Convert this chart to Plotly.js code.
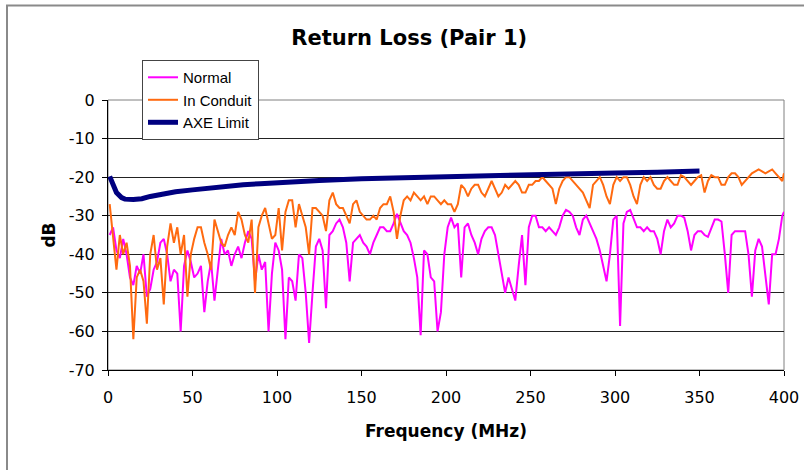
<!DOCTYPE html>
<html>
<head>
<meta charset="utf-8">
<script src="https://cdn.plot.ly/plotly-3.0.1.min.js"></script>
<style>
  html, body { margin: 0; padding: 0; background: #ffffff; }
  #chart { width: 804px; height: 470px; }
</style>
</head>
<body>
<div id="chart"></div>
<script>
// Frequency samples (MHz) for measured traces
const freq = [
  1,3,5,7,9,11,13,15,17,19,
  21,23,25,27,29,31,33,35,37,39,
  41,43,45,47,49,51,53,55,57,59,
  61,63,65,67,69,71,73,75,77,79,
  81,83,85,87,89,91,93,95,97,99,
  101,103,105,107,109,111,113,115,117,119,
  121,123,125,127,129,131,133,135,137,139,
  141,143,145,147,149,151,153,155,157,159,
  161,163,165,167,169,171,173,175,177,179,
  181,183,185,187,189,191,193,195,197,199,
  201,203,205,207,209,211,213,215,217,219,
  221,223,225,227,229,231,233,235,237,239,
  241,243,245,247,249,251,253,255,257,259,
  261,263,265,267,269,271,273,275,277,279,
  281,283,285,287,289,291,293,295,297,299,
  301,303,305,307,309,311,313,315,317,319,
  321,323,325,327,329,331,333,335,337,339,
  341,343,345,347,349,351,353,355,357,359,
  361,363,365,367,369,371,373,375,377,379,
  381,383,385,387,389,391,393,395,397,399,
  400
];

// "Normal" return loss (dB)
const normal = [
  -35,-33,-39,-41,-36,-40,-46,-48,-43,-45,
  -40,-51,-49,-44,-42,-37,-36,-40,-47,-44,
  -45,-60,-43,-39,-42,-46,-45,-43,-55,-47,
  -42,-52,-44,-36,-40,-39,-43,-40,-38,-41,
  -37,-34,-36,-47,-40,-44,-42,-60,-45,-37,
  -39,-44,-62,-46,-47,-52,-40,-41,-50,-63,
  -50,-38,-36,-39,-54,-35,-34,-32,-31,-33,
  -37,-47,-37,-36,-35,-37,-38,-40,-37,-35,
  -33,-33,-34,-34,-32,-29.5,-32,-34,-35,-37,
  -41,-46,-61,-39,-40,-46,-47,-60,-55,-40,
  -33,-30.5,-33,-32,-46,-33,-32,-35,-37,-40,
  -36,-34,-33,-33,-35,-40,-44,-50,-46,-49,
  -52,-43,-35,-48,-33,-30,-30,-33,-33,-34,
  -33,-34,-35,-33,-30,-28.5,-29,-30,-33,-35,
  -31,-30,-32,-34,-36,-39,-43,-47,-40,-31,
  -30,-58.6,-32,-29,-28.5,-31,-33,-33,-34,-33,
  -34,-34,-36,-40,-34,-31,-33,-32,-30,-30,
  -30.5,-34,-39,-35,-34,-34,-35,-35.5,-33,-31,
  -31,-31.5,-40,-50,-35,-34,-34,-34,-34,-40,
  -51,-39,-36,-38,-45,-53,-40,-40,-36,-30,
  -29
];

// "In Conduit" return loss (dB)
const inConduit = [
  -27,-36,-44,-35,-40,-37,-43,-62,-46,-44,
  -47,-58,-40,-35,-44,-41,-53,-38,-32,-37,
  -33,-40,-35,-51,-40,-36,-33,-33,-37,-40,
  -44,-31,-34,-37,-38,-35,-33,-35,-29,-31,
  -35,-37,-31,-50,-33,-30,-28,-32,-36,-35,
  -28,-39,-29,-26,-26,-33,-27,-30,-33,-40,
  -28,-28,-29,-30,-34,-26,-24,-27,-28,-28,
  -30,-32,-27,-26,-29,-30,-31,-31,-30,-31,
  -28,-27,-27,-25,-29,-36,-30,-26,-25,-26,
  -24,-25,-26,-25,-27,-25,-25,-26,-27,-26,
  -27,-27,-29,-27,-22,-23,-25,-23,-22,-22,
  -24,-25,-23,-21,-23,-25,-24,-22,-23,-22,
  -21,-22,-24,-24,-22,-22,-21,-21,-20,-21,
  -22,-23,-27,-23,-21,-20,-20,-21,-22,-23,
  -24,-26,-28,-22,-21,-20,-22,-25,-27,-22,
  -20,-21,-20,-20,-22,-25,-27,-22,-20,-21,
  -20,-22,-23,-23,-21,-20,-21,-22,-22,-19.5,
  -20,-21,-22,-21,-20,-19.5,-24,-21,-19.5,-20,
  -20,-22,-22,-20,-19,-19,-20,-22,-21,-20,
  -19,-18.5,-18,-18.5,-19,-18.5,-18,-19,-20,-21,
  -19
];

// AXE limit line
const limitFreq = [1,3,5,8,10,15,20,25,30,40,50,60,70,80,90,100,125,150,175,200,225,250,275,300,325,350];
const axeLimit  = [-19.8,-22,-24,-25.3,-25.7,-25.8,-25.6,-25.0,-24.5,-23.8,-23.3,-22.8,-22.4,-22.0,-21.7,-21.4,-20.9,-20.4,-20.1,-19.8,-19.5,-19.2,-19.0,-18.9,-18.7,-18.4];

const seriesNames = ["Normal", "In Conduit", "AXE Limit"];
const xTickVals = [0,50,100,150,200,250,300,350,400];
const yTickVals = [0,-10,-20,-30,-40,-50,-60,-70];
const yTickText = ["0","-10","-20","-30","-40","-50","-60","-70"];

const traces = [
  { x: freq, y: normal, name: seriesNames[0], type: "scatter", mode: "lines",
    line: { color: "#FF00FF", width: 2 } },
  { x: freq, y: inConduit, name: seriesNames[1], type: "scatter", mode: "lines",
    line: { color: "#FF6A10", width: 2 } },
  { x: limitFreq, y: axeLimit, name: seriesNames[2], type: "scatter", mode: "lines",
    line: { color: "#000080", width: 5 } }
];

const tickFont = { family: "DejaVu Sans, Verdana, sans-serif", size: 16, color: "#000" };
const boldFont = { family: "DejaVu Sans, Verdana, sans-serif", size: 17, color: "#000" };

const layout = {
  width: 804, height: 470,
  margin: { l: 108, r: 20, t: 100, b: 100, pad: 0 },
  paper_bgcolor: "#ffffff", plot_bgcolor: "#ffffff",
  showlegend: true,
  title: { text: "<b>Return Loss (Pair 1)</b>", x: 0.509, xanchor: "center", xref: "container",
           y: 0.919, yanchor: "middle", yref: "container",
           font: { family: "DejaVu Sans, Verdana, sans-serif", size: 21, color: "#000" } },
  xaxis: {
    range: [0, 400], tickvals: xTickVals, ticks: "outside", ticklen: 5, tickcolor: "#000",
    showline: true, linecolor: "#000", linewidth: 1, showgrid: false, zeroline: false,
    tickfont: tickFont, ticklabelstandoff: 8,
    title: { text: "<b>Frequency (MHz)</b>", font: boldFont, standoff: 18 }
  },
  yaxis: {
    range: [-70, 0], tickvals: yTickVals, ticktext: yTickText, ticks: "outside", ticklen: 5, tickcolor: "#000",
    showline: true, linecolor: "#000", linewidth: 1, showgrid: true, gridcolor: "#222", gridwidth: 1,
    zeroline: false, tickfont: tickFont, ticklabelstandoff: 4,
    title: { text: "<b>dB</b>", font: boldFont, standoff: 8 }
  },
  legend: {
    x: 0.0503, y: 1.148, xanchor: "left", yanchor: "top",
    bgcolor: "#ffffff", bordercolor: "#444", borderwidth: 1,
    font: { family: "Liberation Sans, Arial, sans-serif", size: 15, color: "#000" },
    tracegroupgap: 0, itemwidth: 30
  },
  shapes: [
    { type: "rect", xref: "paper", yref: "paper", x0: 0, x1: 1, y0: 0, y1: 1,
      line: { color: "#808080", width: 1 }, layer: "below" },
    { type: "rect", xref: "paper", yref: "paper", x0: -0.1494, x1: 1.2, y0: -0.6, y1: 1.35,
      line: { color: "#8a8a8a", width: 2 }, fillcolor: "rgba(0,0,0,0)", layer: "below" }
  ]
};

Plotly.newPlot("chart", traces, layout, { staticPlot: true, displayModeBar: false });
</script>
</body>
</html>
